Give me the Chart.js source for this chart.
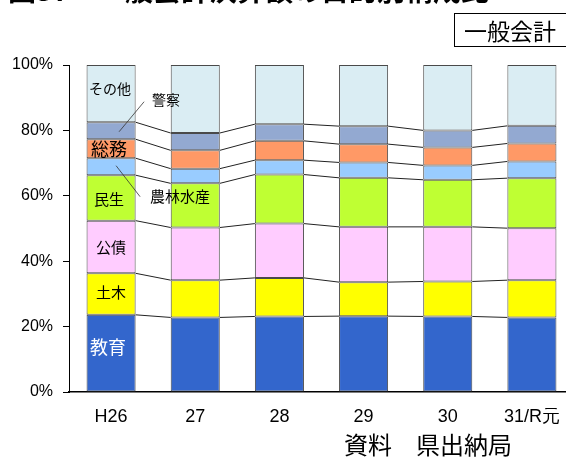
<!DOCTYPE html>
<html><head><meta charset="utf-8">
<script src="https://cdn.jsdelivr.net/npm/chart.js@4"></script>
<style>
html,body{margin:0;padding:0;background:#fff;overflow:hidden;width:566px;height:458px;}
#wrap{position:absolute;left:0;top:0;width:580px;height:458px;}
</style></head>
<body>
<div id="wrap"><canvas id="c" width="580" height="458"></canvas></div>
<script>
const categories = ['H26','27','28','29','30','31/R元'];
const seriesNames = ['教育','土木','公債','民生','農林水産','総務','警察','その他'];
const kyoiku   = [23.6, 22.8, 23.1, 23.2, 23.1, 22.8];
const doboku   = [12.7, 11.4, 11.8, 10.4, 10.7, 11.4];
const kosai    = [16.1, 16.1, 16.6, 16.9, 16.7, 15.9];
const minsei   = [13.9, 13.5, 15.0, 15.0, 14.4, 15.3];
const norin    = [5.2, 4.5, 4.4, 4.7, 4.4, 5.1];
const somu     = [5.8, 5.6, 5.9, 5.6, 5.5, 5.5];
const keisatsu = [5.2, 5.3, 5.1, 5.5, 5.2, 5.4];
const sonota   = [17.5, 20.8, 18.1, 18.7, 20.0, 18.6];
const yTicks = [0, 20, 40, 60, 80, 100];

const seriesValues = [kyoiku, doboku, kosai, minsei, norin, somu, keisatsu, sonota];
const colors = ['#3366cc','#ffff00','#ffccff','#bfff33','#99ccff','#ff9966','#93a9d1','#daedf3'];

const JP = '"Noto Sans CJK JP", sans-serif';
const NUM = '"Liberation Sans", Arial, sans-serif';

// label annotations (relative to first bar's segment center)
const annotations = [
  {ds:0, text:'教育', dx:-3, dy:-6, size:18, color:'#ffffff'},
  {ds:1, text:'土木', dx:0, dy:-2, size:15, color:'#000'},
  {ds:2, text:'公債', dx:0, dy:0, size:15, color:'#000'},
  {ds:3, text:'民生', dx:-2, dy:1, size:15, color:'#000'},
  {ds:5, text:'総務', dx:-2, dy:0, size:18, color:'#000'},
  {ds:7, text:'その他', dx:-1, dy:-5, size:14, color:'#000'},
  {ds:6, text:'警察', dx:55, dy:-31, size:14, color:'#000', leader:[33,-29,8,1]},
  {ds:4, text:'農林水産', dx:69, dy:30, size:15, color:'#000', leader:[29,30,5,-1]}
];

const connectors = {
  id:'connectors',
  afterDatasetsDraw(chart){
    const ctx = chart.ctx;
    const y = chart.scales.y;
    ctx.save();
    ctx.strokeStyle = '#222';
    ctx.lineWidth = 1;
    const n = categories.length;
    const cum = new Array(n).fill(0);
    for (let d = 0; d < seriesValues.length - 1; d++) {
      for (let i = 0; i < n; i++) cum[i] += seriesValues[d][i];
      const meta = chart.getDatasetMeta(d);
      for (let i = 0; i < n - 1; i++) {
        const a = meta.data[i], b = meta.data[i+1];
        const x1 = a.x + a.width/2, x2 = b.x - b.width/2;
        ctx.beginPath();
        ctx.moveTo(x1, y.getPixelForValue(cum[i]));
        ctx.lineTo(x2, y.getPixelForValue(cum[i+1]));
        ctx.stroke();
      }
    }
    ctx.restore();
  }
};

const texts = {
  id:'texts',
  afterDraw(chart){
    const ctx = chart.ctx;
    ctx.save();
    ctx.textAlign = 'center';
    ctx.textBaseline = 'middle';
    annotations.forEach(a => {
      const el = chart.getDatasetMeta(a.ds).data[0];
      const cx = el.x, cy = (el.y + el.base) / 2;
      if (a.leader) {
        ctx.strokeStyle = '#333';
        ctx.lineWidth = 0.8;
        ctx.beginPath();
        ctx.moveTo(cx + a.leader[0], cy + a.leader[1]);
        ctx.lineTo(cx + a.leader[2], cy + a.leader[3]);
        ctx.stroke();
      }
      ctx.fillStyle = a.color;
      ctx.font = a.size + 'px ' + JP;
      ctx.fillText(a.text, cx + a.dx, cy + a.dy);
    });
    // title (cut off at top)
    ctx.textAlign = 'left';
    ctx.fillStyle = '#000';
    ctx.font = 'bold 28px ' + JP;
    ctx.fillText('図37　一般会計決算額の目的別構成比', 8, -10);
    // box label
    ctx.fillStyle = '#fff';
    ctx.fillRect(454.5, 13.5, 130, 33);
    ctx.strokeStyle = '#000';
    ctx.lineWidth = 1;
    ctx.strokeRect(454.5, 13.5, 130, 33);
    ctx.fillStyle = '#000';
    ctx.font = '23px ' + JP;
    ctx.textAlign = 'center';
    ctx.fillText('一般会計', 510, 31);
    // source
    ctx.font = '24px ' + JP;
    ctx.fillText('資料　県出納局', 428, 445);
    ctx.restore();
  }
};

new Chart(document.getElementById('c'), {
  type: 'bar',
  data: {
    labels: categories,
    datasets: seriesNames.map((name, i) => ({
      label: name,
      data: seriesValues[i],
      backgroundColor: colors[i],
      borderColor: '#4a4a4a',
      borderWidth: 1,
      borderSkipped: false,
      barPercentage: 0.583,
      categoryPercentage: 1
    }))
  },
  options: {
    responsive: false,
    animation: false,
    layout: { padding: { top: 65, right: 6, left: 0, bottom: 0 } },
    plugins: { legend: { display: false }, tooltip: { enabled: false }, title: { display: false } },
    scales: {
      x: {
        stacked: true,
        grid: { display: true, drawOnChartArea: false, drawTicks: false },
        border: { display: true, color: '#000', width: 1.5 },
        ticks: { color: '#000', font: { family: NUM, size: 18 }, padding: 14, maxRotation: 0, autoSkip: false },
        afterFit(s){ s.height = 66; }
      },
      y: {
        stacked: true,
        min: 0, max: 100,
        afterBuildTicks(s){ s.ticks = yTicks.map(v => ({value: v})); },
        grid: { display: true, drawOnChartArea: false, drawTicks: true, tickLength: 6, color: '#000' },
        border: { display: true, color: '#000', width: 1 },
        ticks: { color: '#000', font: { family: NUM, size: 16 }, padding: 10, callback: v => v + '%' },
        afterFit(s){ s.width = 69; }
      }
    }
  },
  plugins: [connectors, texts]
});
</script>
</body></html>
